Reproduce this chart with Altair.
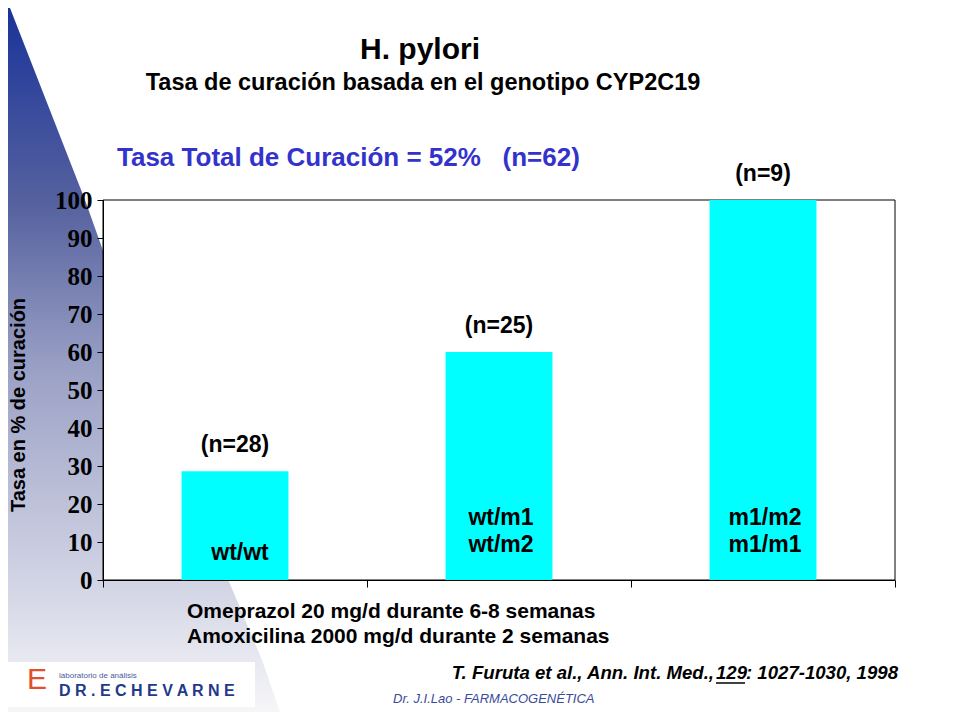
import altair as alt
import pandas as pd

# ---- data ----
grupos = ["wt/wt", "wt/m", "m/m"]
tasa_curacion = [28.6, 60.0, 100.0]
n_labels = ["(n=28)", "(n=25)", "(n=9)"]
genotipo_sup = ["", "wt/m1", "m1/m2"]
genotipo_inf = ["wt/wt", "wt/m2", "m1/m1"]
y_ticks = [0, 10, 20, 30, 40, 50, 60, 70, 80, 90, 100]

titulo = "H. pylori"
subtitulo = "Tasa de curación basada en el genotipo CYP2C19"
tasa_total = "Tasa Total de Curación = 52%\u00a0\u00a0\u00a0(n=62)"
eje_y = "Tasa en % de curación"
tratamiento = ["Omeprazol 20 mg/d durante 6-8 semanas",
               "Amoxicilina 2000 mg/d durante 2 semanas"]
cita = ["T. Furuta et al., Ann. Int. Med., ", "129", ": 1027-1030, 1998"]
autor = "Dr. J.I.Lao - FARMACOGENÉTICA"

df = pd.DataFrame({
    "grupo": grupos,
    "tasa": tasa_curacion,
    "n": n_labels,
    "sup": genotipo_sup,
    "inf": genotipo_inf,
})

# decorative background triangle (pixel coordinates, relative to plot origin)
tri = pd.DataFrame({
    "py": [-192, 0, 160, 270, 460, 512],
    "px": [-93, -18, 39, 79, 159, 177],
    "px0": [-95, -95, -95, -95, -95, -95],
})

W, H = 792, 380
FONT = "Liberation Sans"
one = pd.DataFrame({"k": [0]})

triangle = alt.Chart(tri).mark_area(
    orient="horizontal",
    color=alt.LinearGradient(
        gradient="linear", x1=0, x2=0, y1=0, y2=1,
        stops=[
            alt.GradientStop(color="#1a3399", offset=0),
            alt.GradientStop(color="#56629f", offset=0.28),
            alt.GradientStop(color="#9ca2c6", offset=0.52),
            alt.GradientStop(color="#d8dae8", offset=0.85),
            alt.GradientStop(color="#f6f6f8", offset=1),
        ],
    ),
).encode(
    y=alt.Y("py:Q", scale=None, axis=None),
    x=alt.X("px:Q", scale=None, axis=None),
    x2="px0:Q",
)

plot_bg = alt.Chart(one).mark_rect(fill="white", stroke="black", strokeWidth=1).encode(
    x=alt.value(0), x2=alt.value(W), y=alt.value(0), y2=alt.value(H)
)

logo_bg = alt.Chart(one).mark_rect(fill="white").encode(
    x=alt.value(-95), x2=alt.value(152), y=alt.value(462), y2=alt.value(507)
)

def txt(text, x, y, size, **kw):
    props = dict(text=text, fontSize=size, font=FONT, baseline="middle")
    props.update(kw)
    return alt.Chart(one).mark_text(**props).encode(x=alt.value(x), y=alt.value(y))

xaxis = alt.Axis(labels=False, title=None, tickBand="extent", tickSize=7,
                 domainColor="black", tickColor="black", grid=False, zindex=1)
xscale = alt.Scale(paddingInner=0, paddingOuter=0)
yaxis = alt.Axis(values=y_ticks, labelFont="Liberation Serif", labelFontWeight="bold",
                 labelFontSize=25, labelColor="black", tickSize=6, labelPadding=5,
                 labelOverlap=False, labelBaseline="middle",
                 grid=False, domainColor="black", tickColor="black", title=None, zindex=1)
yscale = alt.Scale(domain=[0, 100], nice=False)

xenc = alt.X("grupo:N", sort=None, scale=xscale, axis=xaxis)
yenc = alt.Y("tasa:Q", scale=yscale, axis=yaxis)

GS = 23
base = alt.Chart(df)
bars = base.mark_bar(color="#00ffff", width=alt.RelativeBandSize(0.405)).encode(x=xenc, y=yenc)
nlab = base.mark_text(font=FONT, fontWeight="bold", fontSize=GS, dy=-26, baseline="middle").encode(
    x=xenc, y=yenc, text="n:N")
sup = base.transform_filter("datum.sup != ''").mark_text(
    font=FONT, fontWeight="bold", fontSize=GS, baseline="middle", dx=2).encode(
    x=xenc, y=alt.value(318), text="sup:N")
inf2 = base.transform_filter("datum.sup != ''").mark_text(
    font=FONT, fontWeight="bold", fontSize=GS, baseline="middle", dx=2).encode(
    x=xenc, y=alt.value(345), text="inf:N")
inf1 = base.transform_filter("datum.sup == ''").mark_text(
    font=FONT, fontWeight="bold", fontSize=GS, baseline="middle", dx=5).encode(
    x=xenc, y=alt.value(353), text="inf:N")

data_layer = alt.layer(bars, nlab, sup, inf2, inf1)

texts = [
    txt(titulo, 317, -150, 30, fontWeight="bold", align="center"),
    txt(subtitulo, 320, -117, 23.5, fontWeight="bold", align="center"),
    txt(tasa_total, 14, -42, 26, fontWeight="bold", align="left", color="#3333cc"),
    txt(eje_y, -84, 205, 20, fontWeight="bold", align="center", angle=270),
    txt(tratamiento[0], 84, 412, 21, fontWeight="bold", align="left"),
    txt(tratamiento[1], 84, 437, 21, fontWeight="bold", align="left"),
    txt(cita[0], 611, 473, 18.6, fontWeight="bold", fontStyle="italic", align="right"),
    txt(cita[1], 613, 473, 18.6, fontWeight="bold", fontStyle="italic", align="left"),
    txt(cita[2], 643, 473, 18.6, fontWeight="bold", fontStyle="italic", align="left"),
    txt(autor, 290, 499, 13, fontStyle="italic", align="left", color="#3a4a9a"),
    txt("laboratorio de análisis", -44, 476, 8, align="left", color="#4a5a9a"),
    txt("D R . E C H E V A R N E", -44, 491, 16, fontWeight="bold", align="left",
        color="#1f3a8a"),
    txt("E", -66, 480, 30, align="center", color="#e0502a"),
]
underline = alt.Chart(one).mark_rule(color="black", strokeWidth=1.5).encode(
    x=alt.value(613), x2=alt.value(642), y=alt.value(483))

chart = alt.layer(
    triangle, plot_bg, logo_bg, data_layer, *texts, underline
).resolve_scale(x="independent", y="independent").properties(
    width=W, height=H,
    autosize=alt.AutoSizeParams(type="none"),
    padding={"left": 95, "top": 192, "right": 57, "bottom": 132},
).configure_view(stroke=None)

chart.save("out.html", embed_options={"renderer": "svg", "actions": False})
